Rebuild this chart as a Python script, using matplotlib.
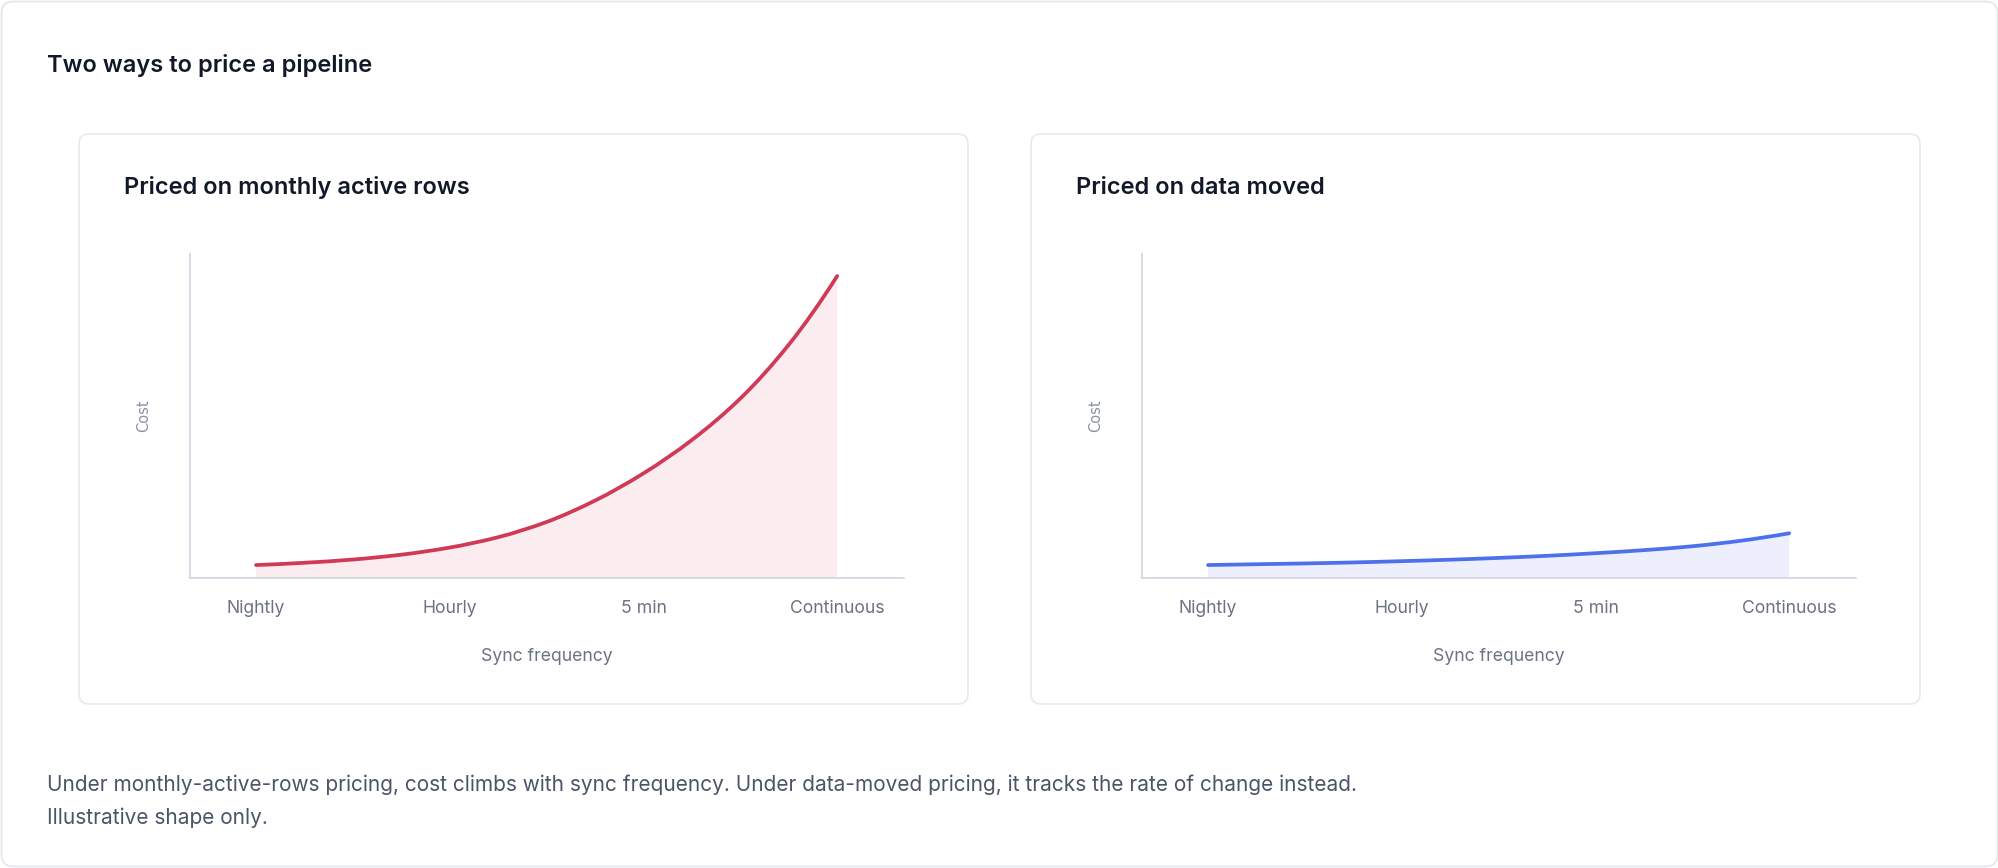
import matplotlib
matplotlib.use("Agg")
import matplotlib.pyplot as plt
from matplotlib.patches import FancyBboxPatch, PathPatch
from matplotlib.path import Path

# ---------------- data ----------------
freq_labels = ["Nightly", "Hourly", "5 min", "Continuous"]
# positions along the sync-frequency axis where the curve was read (category units)
sample_pos = [0, 0.25, 0.5, 0.75, 1.0, 1.25, 1.5, 1.75, 2.0, 2.25, 2.5, 2.75, 3.0]
mar_cost = [4.0, 4.7, 5.7, 7.2, 9.4, 12.6, 17.3, 23.9, 32.3, 42.6, 55.4, 72.0, 93.2]
moved_cost = [4.0, 4.25, 4.5, 4.8, 5.2, 5.65, 6.2, 6.85, 7.65, 8.6, 9.8, 11.5, 13.8]

title = "Two ways to price a pipeline"
panel_titles = ["Priced on monthly active rows", "Priced on data moved"]
x_label = "Sync frequency"
y_label = "Cost"
caption = ["Under monthly-active-rows pricing, cost climbs with sync frequency. "
           "Under data-moved pricing, it tracks the rate of change instead.",
           "Illustrative shape only."]


def smooth_verts(xs, ys):
    """Monotone cubic (PCHIP-style) curve through the points, as Bezier segments."""
    n = len(xs)
    h = [xs[k + 1] - xs[k] for k in range(n - 1)]
    d = [(ys[k + 1] - ys[k]) / h[k] for k in range(n - 1)]
    m = [0.0] * n
    for k in range(1, n - 1):
        if d[k - 1] * d[k] <= 0:
            m[k] = 0.0
        else:
            w1 = 2 * h[k] + h[k - 1]
            w2 = h[k] + 2 * h[k - 1]
            m[k] = (w1 + w2) / (w1 / d[k - 1] + w2 / d[k])

    def end_slope(h0, h1, d0, d1):
        s = ((2 * h0 + h1) * d0 - h0 * d1) / (h0 + h1)
        if s * d0 <= 0:
            return 0.0
        if d0 * d1 < 0 and abs(s) > abs(3 * d0):
            return 3 * d0
        return s

    m[0] = end_slope(h[0], h[1], d[0], d[1])
    m[-1] = end_slope(h[-1], h[-2], d[-1], d[-2])
    verts = [(xs[0], ys[0])]
    codes = [Path.MOVETO]
    for k in range(n - 1):
        verts += [(xs[k] + h[k] / 3, ys[k] + m[k] * h[k] / 3),
                  (xs[k + 1] - h[k] / 3, ys[k + 1] - m[k + 1] * h[k] / 3),
                  (xs[k + 1], ys[k + 1])]
        codes += [Path.CURVE4] * 3
    return verts, codes


# ---------------- style ----------------
plt.rcParams['font.family'] = ['Inter', 'DejaVu Sans']
W, H = 1999, 868
fig = plt.figure(figsize=(W / 100, H / 100), dpi=100)
fig.patch.set_facecolor('white')

bg = fig.add_axes([0, 0, 1, 1])
bg.set_xlim(0, W)
bg.set_ylim(H, 0)
bg.axis('off')

bg.add_patch(FancyBboxPatch((1.5, 1.5), W - 3, H - 3,
                            boxstyle="round,pad=0,rounding_size=12",
                            fc='white', ec='#e3e6ec', lw=1.2))

card_left = [79, 1031]
for x0 in card_left:
    bg.add_patch(FancyBboxPatch((x0, 134), 889, 570,
                                boxstyle="round,pad=0,rounding_size=10",
                                fc='white', ec='#e6e9ef', lw=1.2))

bg.text(47, 72, title, fontsize=17, fontweight='semibold', color='#111827',
        ha='left', va='baseline')
bg.text(47, 785, caption[0], fontsize=15, color='#4b5567', ha='left', va='center')
bg.text(47, 818, caption[1], fontsize=15, color='#4b5567', ha='left', va='center')


def px_axes(l, t, r, b):
    return fig.add_axes([l / W, 1 - b / H, (r - l) / W, (b - t) / H])


series = [mar_cost, moved_cost]
line_colors = ['#d13a56', '#4d71ea']
fill_colors = ['#fbecef', '#edf0fc']

for i, x0 in enumerate(card_left):
    off = x0 - card_left[0]
    bg.text(124 + off, 194, panel_titles[i], fontsize=17, fontweight='semibold',
            color='#111827', ha='left', va='baseline')
    ax = px_axes(190 + off, 254, 904 + off, 578)
    ax.set_facecolor('none')

    verts, codes = smooth_verts(sample_pos, series[i])
    fverts = verts + [(sample_pos[-1], 0), (sample_pos[0], 0), (sample_pos[0], 0)]
    fcodes = codes + [Path.LINETO, Path.LINETO, Path.CLOSEPOLY]
    ax.add_patch(PathPatch(Path(fverts, fcodes), fc=fill_colors[i], ec='none',
                           lw=0, zorder=1))
    ax.add_patch(PathPatch(Path(verts, codes), fc='none', ec=line_colors[i],
                           lw=2.7, capstyle='round', joinstyle='round', zorder=3))

    ax.set_xlim(-0.341, 3.345)
    ax.set_ylim(0, 100)
    ax.set_xticks(range(len(freq_labels)))
    ax.set_xticklabels(freq_labels)
    ax.tick_params(axis='x', length=0, pad=16, labelsize=12.7, labelcolor='#6b7282')
    ax.set_yticks([])
    for s in ('top', 'right'):
        ax.spines[s].set_visible(False)
    for s in ('left', 'bottom'):
        ax.spines[s].set_color('#cfd4df')
        ax.spines[s].set_linewidth(1.2)
    ax.spines['bottom'].set_zorder(4)
    ax.set_xlabel(x_label, fontsize=12.7, color='#6b7282', labelpad=22)
    ax.set_ylabel(y_label, fontsize=10.5, color='#8a92a3', labelpad=28,
                  family='DejaVu Sans')

fig.savefig('out.png', dpi=100, facecolor='white')
